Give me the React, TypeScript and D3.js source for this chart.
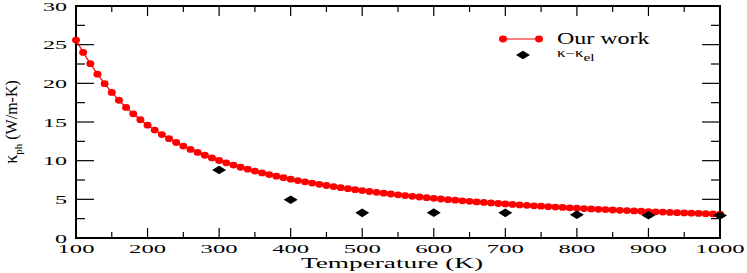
import React, { useEffect, useRef } from 'react';
import * as d3 from 'd3';

// temperatures (K) of the computed curve
const temperatures = [
  100, 110, 120, 130, 140, 150, 160, 170, 180, 190,
  200, 210, 220, 230, 240, 250, 260, 270, 280, 290,
  300, 310, 320, 330, 340, 350, 360, 370, 380, 390,
  400, 410, 420, 430, 440, 450, 460, 470, 480, 490,
  500, 510, 520, 530, 540, 550, 560, 570, 580, 590,
  600, 610, 620, 630, 640, 650, 660, 670, 680, 690,
  700, 710, 720, 730, 740, 750, 760, 770, 780, 790,
  800, 810, 820, 830, 840, 850, 860, 870, 880, 890,
  900, 910, 920, 930, 940, 950, 960, 970, 980, 990,
  1000,
];

// kappa_ph, "Our work"
const ourWork = [
  25.6, 24.0, 22.54, 21.19, 19.96, 18.83, 17.81, 16.88, 16.06, 15.29,
  14.59, 13.95, 13.37, 12.84, 12.35, 11.89, 11.46, 11.07, 10.7, 10.35,
  10.02, 9.72, 9.43, 9.15, 8.9, 8.65, 8.42, 8.2, 7.99, 7.8,
  7.61, 7.43, 7.26, 7.1, 6.94, 6.79, 6.65, 6.51, 6.38, 6.25,
  6.13, 6.01, 5.9, 5.79, 5.69, 5.58, 5.49, 5.39, 5.3, 5.21,
  5.13, 5.04, 4.96, 4.89, 4.81, 4.74, 4.67, 4.6, 4.53, 4.46,
  4.4, 4.34, 4.28, 4.22, 4.16, 4.11, 4.05, 4.0, 3.95, 3.9,
  3.85, 3.8, 3.76, 3.71, 3.67, 3.62, 3.58, 3.54, 3.5, 3.46,
  3.42, 3.38, 3.35, 3.31, 3.28, 3.24, 3.21, 3.18, 3.14, 3.11,
  3.08,
];

// kappa - kappa_el
const expTemps = [300, 400, 500, 600, 700, 800, 900, 1000];
const kappaMinusEl = [8.8, 4.94, 3.25, 3.28, 3.25, 3.0, 2.95, 2.9];

const xMajor = [100, 200, 300, 400, 500, 600, 700, 800, 900, 1000];
const xMinor = [150, 250, 350, 450, 550, 650, 750, 850, 950];
const yMajor = [0, 5, 10, 15, 20, 25, 30];
const yMinor = [2.5, 7.5, 12.5, 17.5, 22.5, 27.5];

const FONT = 'Liberation Serif, Times New Roman, DejaVu Serif, serif';

const App: React.FC = () => {
  const svgRef = useRef<SVGSVGElement>(null);

  useEffect(() => {
    if (!svgRef.current) return;
    const svg = d3.select(svgRef.current);
    svg.selectAll('*').remove();

    const width = 747;
    const height = 273;
    const margin = { top: 6, right: 27, bottom: 35, left: 76 };

    const x = d3.scaleLinear().domain([100, 1000]).range([margin.left, width - margin.right]);
    const y = d3.scaleLinear().domain([0, 30]).range([height - margin.bottom, margin.top]);

    const [x0, x1] = x.range();
    const [y0, y1] = y.range();

    // ticks, inward on all four sides
    const ticks = svg.append('g').attr('stroke', '#000').attr('stroke-width', 1.2);
    const xt = [...xMajor.map(v => ({ v, len: 10 })), ...xMinor.map(v => ({ v, len: 6 }))];
    const yt = [...yMajor.map(v => ({ v, len: 18 })), ...yMinor.map(v => ({ v, len: 9 }))];
    xt.forEach(t => {
      ticks.append('line').attr('x1', x(t.v)).attr('x2', x(t.v)).attr('y1', y0).attr('y2', y0 - t.len);
      ticks.append('line').attr('x1', x(t.v)).attr('x2', x(t.v)).attr('y1', y1).attr('y2', y1 + t.len);
    });
    yt.forEach(t => {
      ticks.append('line').attr('y1', y(t.v)).attr('y2', y(t.v)).attr('x1', x0).attr('x2', x0 + t.len);
      ticks.append('line').attr('y1', y(t.v)).attr('y2', y(t.v)).attr('x1', x1).attr('x2', x1 - t.len);
    });

    // frame
    svg.append('rect')
      .attr('x', x0).attr('y', y1)
      .attr('width', x1 - x0).attr('height', y0 - y1)
      .attr('fill', 'none').attr('stroke', '#000').attr('stroke-width', 2);

    // stretched text helper (the original figure is stretched horizontally)
    const stretched = (tx: number, ty: number, sx: number, size: number, anchor: string, str: string) =>
      svg.append('text')
        .attr('transform', `translate(${tx},${ty}) scale(${sx},1)`)
        .attr('text-anchor', anchor)
        .attr('font-family', FONT)
        .attr('font-size', size)
        .attr('fill', '#000')
        .text(str);

    xMajor.forEach(v => stretched(x(v), 253, 1.9, 13, 'middle', String(v)));
    yMajor.forEach(v => stretched(67, y(v) + 4.5, 1.85, 13, 'end', String(v)));

    stretched((x0 + x1) / 2 - 6, 268, 1.95, 14, 'middle', 'Temperature (K)');

    // y-axis title
    const ytl = svg.append('text')
      .attr('transform', `translate(17, ${(y0 + y1) / 2}) rotate(-90)`)
      .attr('text-anchor', 'middle')
      .attr('font-family', FONT)
      .attr('font-size', 16)
      .attr('fill', '#000');
    ytl.append('tspan').attr('font-size', 18).text('κ');
    ytl.append('tspan').attr('dy', 5).attr('font-size', 11).text('ph');
    ytl.append('tspan').attr('dy', -5).text(' (W/m-K)');

    // curve
    const line = d3.line<number>()
      .x((_d, i) => x(temperatures[i]))
      .y(d => y(d));
    svg.append('path')
      .datum(ourWork)
      .attr('d', line)
      .attr('fill', 'none')
      .attr('stroke', '#ff0000')
      .attr('stroke-width', 1.2);
    svg.append('g').selectAll('ellipse')
      .data(ourWork)
      .enter().append('ellipse')
      .attr('cx', (_d, i) => x(temperatures[i]))
      .attr('cy', d => y(d))
      .attr('rx', 4)
      .attr('ry', 3.4)
      .attr('fill', '#ff0000');

    // diamonds
    const diamond = (cx: number, cy: number) =>
      `M${cx - 7},${cy} L${cx},${cy - 4.3} L${cx + 7},${cy} L${cx},${cy + 4.3} Z`;
    svg.append('g').selectAll('path')
      .data(kappaMinusEl)
      .enter().append('path')
      .attr('d', (d, i) => diamond(x(expTemps[i]), y(d)))
      .attr('fill', '#000');

    // legend
    const lg = svg.append('g');
    lg.append('line').attr('x1', 503).attr('x2', 539).attr('y1', 39).attr('y2', 39)
      .attr('stroke', '#ff0000').attr('stroke-width', 1.2);
    [503, 539].forEach(cx => lg.append('ellipse').attr('cx', cx).attr('cy', 39)
      .attr('rx', 4).attr('ry', 3.4).attr('fill', '#ff0000'));
    stretched(557, 44, 1.5, 16, 'start', 'Our work');
    lg.append('path').attr('d', diamond(523, 55)).attr('fill', '#000');
    const kt = svg.append('text')
      .attr('transform', 'translate(557,57) scale(1.4,1)')
      .attr('font-family', FONT)
      .attr('font-size', 12)
      .attr('fill', '#000');
    kt.append('tspan').text('κ−κ');
    kt.append('tspan').attr('dy', 4).attr('font-size', 11).text('el');
  }, []);

  return (
    <svg
      ref={svgRef}
      width={747}
      height={273}
      style={{ position: 'absolute', left: 0, top: 0, background: '#fff' }}
    />
  );
};

export default App;
